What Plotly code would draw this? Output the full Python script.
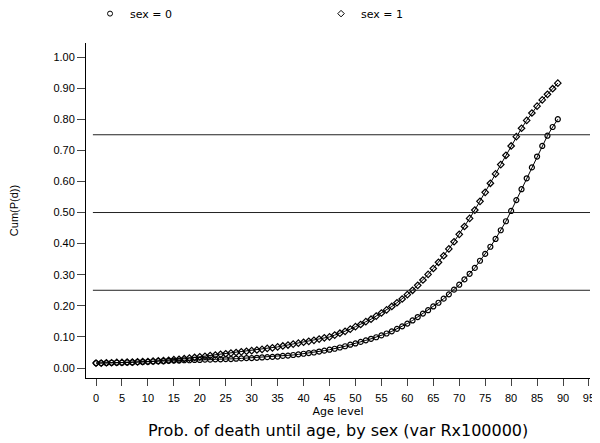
import plotly.graph_objects as go

ages = list(range(0, 90))

sex0 = [0.016, 0.016, 0.016, 0.017, 0.017, 0.017, 0.018, 0.018, 0.019, 0.019,
        0.020, 0.021, 0.022, 0.022, 0.023, 0.024, 0.024, 0.025, 0.025, 0.026,
        0.026, 0.027, 0.027, 0.028, 0.028, 0.029, 0.029, 0.030, 0.031, 0.032,
        0.032, 0.033, 0.034, 0.035, 0.036, 0.037, 0.039, 0.040, 0.042, 0.044,
        0.046, 0.048, 0.050, 0.053, 0.056, 0.059, 0.062, 0.066, 0.070, 0.075,
        0.079, 0.084, 0.089, 0.094, 0.099, 0.105, 0.111, 0.118, 0.126, 0.134,
        0.143, 0.153, 0.164, 0.175, 0.186, 0.198, 0.210, 0.223, 0.237, 0.252,
        0.268, 0.285, 0.303, 0.322, 0.345, 0.367, 0.390, 0.415, 0.443, 0.472,
        0.505, 0.540, 0.575, 0.610, 0.645, 0.680, 0.714, 0.747, 0.775, 0.800]

sex1 = [0.016, 0.016, 0.017, 0.017, 0.018, 0.018, 0.019, 0.019, 0.020, 0.021,
        0.021, 0.022, 0.023, 0.024, 0.025, 0.027, 0.028, 0.030, 0.032, 0.034,
        0.036, 0.038, 0.040, 0.042, 0.044, 0.046, 0.048, 0.050, 0.052, 0.054,
        0.056, 0.058, 0.060, 0.063, 0.065, 0.068, 0.071, 0.074, 0.077, 0.080,
        0.083, 0.086, 0.089, 0.093, 0.097, 0.100, 0.106, 0.112, 0.118, 0.125,
        0.133, 0.140, 0.149, 0.157, 0.167, 0.177, 0.187, 0.198, 0.210, 0.222,
        0.236, 0.250, 0.266, 0.283, 0.301, 0.320, 0.340, 0.361, 0.383, 0.406,
        0.430, 0.455, 0.481, 0.508, 0.536, 0.565, 0.594, 0.624, 0.654, 0.684,
        0.714, 0.744, 0.771, 0.796, 0.820, 0.842, 0.862, 0.880, 0.898, 0.916]

series_names = ["sex = 0", "sex = 1"]
ref_levels = [0.25, 0.50, 0.75]
x_ticks = list(range(0, 100, 5))
y_ticks = [i / 10 for i in range(0, 11)]
y_tick_labels = ["%.2f" % v for v in y_ticks]

FONT = "Liberation Sans, Arial, Helvetica, sans-serif"
WIDE = "DejaVu Sans, Verdana, sans-serif"
symbols = ["circle-open", "diamond-open"]

fig = go.Figure()
for name, vals, sym in zip(series_names, [sex0, sex1], symbols):
    fig.add_trace(go.Scatter(
        x=ages, y=vals, name=name, mode="lines+markers", showlegend=False,
        line=dict(color="black", width=1),
        marker=dict(symbol=sym, size=5, color="black", line=dict(width=1.2)),
    ))
# legend-only entries (marker without line, as in the reference legend)
for name, sym in zip(series_names, symbols):
    fig.add_trace(go.Scatter(
        x=[None], y=[None], name=name, mode="markers",
        marker=dict(symbol=sym, size=5, color="black", line=dict(width=1)),
    ))

for lv in ref_levels:
    fig.add_shape(type="line", xref="x", yref="y", x0=-0.6, x1=95.2, y0=lv, y1=lv,
                  line=dict(color="#222", width=1))

fig.update_layout(
    width=592, height=435,
    margin=dict(l=78, r=10, t=35, b=65, autoexpand=False),
    paper_bgcolor="white", plot_bgcolor="white",
    font=dict(family=FONT, color="black", size=11),
    showlegend=True,
    legend=dict(orientation="h", x=0.008, xanchor="left", y=1.131, yref="paper",
                yanchor="top", entrywidth=186, font=dict(family=WIDE, size=11),
                bgcolor="rgba(0,0,0,0)", itemwidth=30),
    xaxis=dict(range=[-1.93, 95.2], tickvals=x_ticks, ticks="outside", ticklen=7,
               showline=True, linecolor="black", linewidth=1, showgrid=False,
               zeroline=False, tickfont=dict(size=11), automargin=False,
               ticklabelstandoff=3,
               title=dict(text="Age level", font=dict(family=WIDE, size=11), standoff=4)),
    yaxis=dict(range=[-0.032, 1.045], tickvals=y_ticks, ticktext=y_tick_labels,
               ticks="outside", ticklen=8, showline=True, linecolor="black", linewidth=1,
               showgrid=False, zeroline=False, tickfont=dict(size=11), automargin=False,
               title=dict(text="Cum(P(d))", font=dict(size=11), standoff=33)),
)

fig.add_annotation(text="Prob. of death until age, by sex (var Rx100000)",
                   xref="paper", yref="paper", x=0.5, y=-0.157, xanchor="center",
                   yanchor="middle", showarrow=False, font=dict(family=WIDE, size=16))

fig.write_html("out.html")
